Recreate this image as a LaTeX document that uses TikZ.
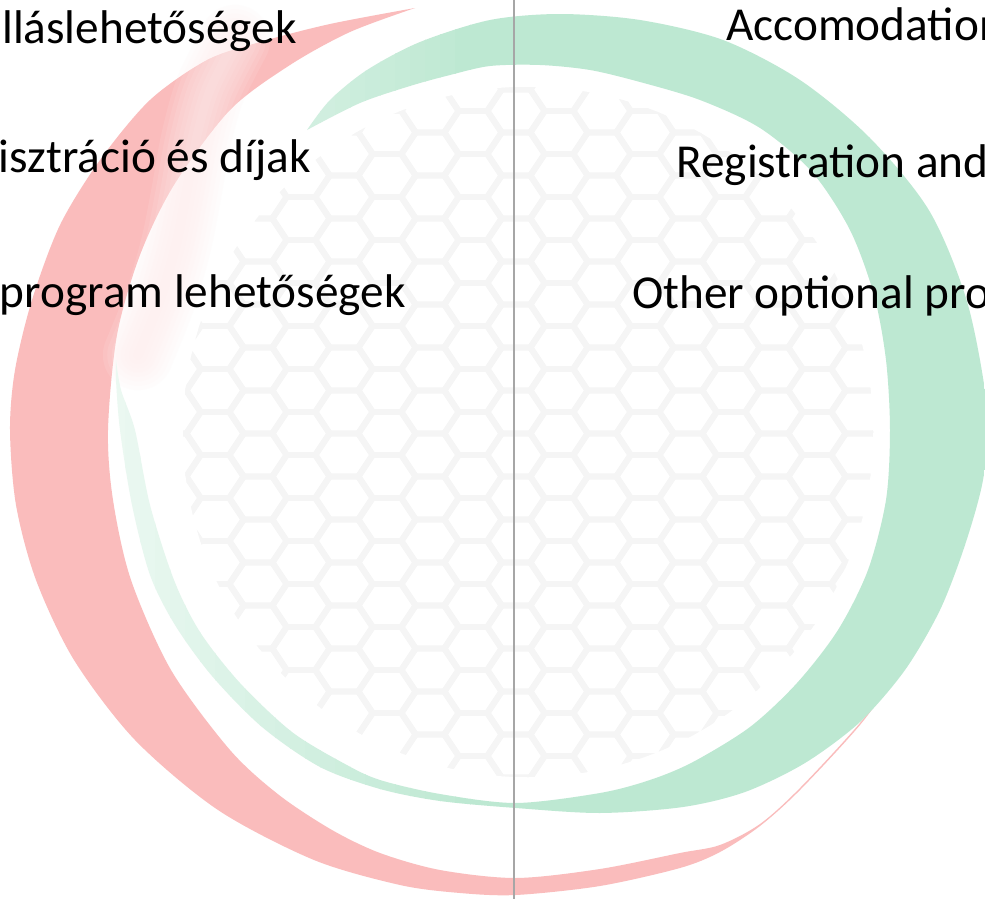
\documentclass[tikz,border=0pt]{standalone}
\usepackage{fontspec}
\newfontfamily\carlito{Carlito}
\definecolor{redband}{RGB}{250,188,188}
\definecolor{redhaze}{RGB}{254,238,238}
\definecolor{greenband}{RGB}{189,232,210}
\newcommand{\redswoosh}{plot[smooth] coordinates {(415,8) (330,24) (260,42) (207,60) (150,100) (100,160) (60,225) (32,300) (15,370) (10,430) (16,505) (36,580) (74,660) (135,740) (218,810) (314,860) (400,885) (460,893) (516,895) (600,886) (680,868) (720,852) (760,826) (800,790) (860,725) (900,670)}
    -- plot[smooth] coordinates {(900,670) (860,723) (800,788) (760,824) (720,845) (680,853) (600,869) (516,878) (440,870) (380,853) (332,830) (279,795) (230,750) (171,670) (131,580) (113,500) (108,430) (117,335) (140,255) (174,185) (230,110) (290,65) (350,32) (415,8)} -- cycle}
\newcommand{\greenswoosh}{plot[smooth] coordinates {(307,130) (330,100) (367,70) (420,42) (490,20) (560,14) (640,20) (723,40) (800,80) (870,138) (930,212) (968,305) (988,415) (983,480) (965,545) (940,610) (905,670) (860,722) (805,763) (745,792) (683,807) (600,813) (516,808) (440,801) (380,789) (320,767) (262,727) (212,676) (175,625) (150,575) (132,505) (120,430) (116,380) (116,360)}
    -- plot[smooth] coordinates {(116,360) (121,390) (135,430) (150,505) (174,580) (200,632) (240,683) (292,732) (345,764) (380,780) (440,794) (516,803) (600,793) (650,780) (693,762) (750,727) (797,683) (838,630) (868,570) (886,500) (890,430) (886,360) (874,295) (850,230) (812,172) (760,128) (700,100) (640,82) (590,70) (540,65) (490,66) (450,75) (410,86) (360,103) (307,130)} -- cycle}
\begin{document}
\begin{tikzpicture}[x=0.02cm,y=-0.02cm,
    hexline/.style={draw=black!4,line width=3.4pt,line join=round},
    divider/.style={draw=black!35,line width=1.1pt},
    lbl/.style={font={\carlito\fontsize{26.9}{32}\selectfont},inner sep=0pt}]
    \useasboundingbox (0,0) rectangle (985,899);
    \fill[white] (0,0) rectangle (985,899);
    \clip (0,0) rectangle (985,899);
    % honeycomb behind the rings
    \begin{scope}
        \clip (528,432) circle (345);
        \foreach \k in {-9,...,9}{
            \foreach \m in {-9,...,10}{
                \pgfmathsetmacro{\cx}{516+43*\k}
                \pgfmathsetmacro{\cy}{369+43*\m+21.5*mod(abs(\k),2)}
                \draw[hexline] (\cx-28.7,\cy) -- (\cx-14.35,\cy-21.5) -- (\cx+14.35,\cy-21.5) -- (\cx+28.7,\cy) -- (\cx+14.35,\cy+21.5) -- (\cx-14.35,\cy+21.5) -- cycle;
            }
        }
    \end{scope}
    \fill[redband] \redswoosh;
    \foreach \w in {40,35,...,5}{
        \draw[redhaze,line width=\w pt,opacity=0.13,line cap=round] plot[smooth] coordinates {(235,40) (210,90) (196,140) (186,195) (176,245) (160,300) (138,355)};
    }
    % green ring, paler towards the left
    \begin{scope}
        \clip \greenswoosh;
        \fill[greenband] (470,0) rectangle (985,899);
        \foreach \i in {0,...,23}{
            \pgfmathtruncatemacro{\pct}{30+70*\i/23}
            \fill[greenband!\pct] (110+15*\i,0) rectangle (126+15*\i,899);
        }
    \end{scope}
    \coordinate (divtop) at (514,0);
    \coordinate (divbot) at (514,899);
    \draw[divider] (divtop) -- (divbot);
    \node[lbl,anchor=base east] (huSzallas) at (297,43) {lláslehetőségek};
    \node[lbl,anchor=base east] (huRegiszt) at (311,172) {isztráció és díjak};
    \node[lbl,anchor=base east] (huProgram) at (406,307) {program lehetőségek};
    \node[lbl,anchor=base west] (enAccom) at (726,40) {Accomodation};
    \node[lbl,anchor=base west] (enRegist) at (676,177) {Registration and};
    \node[lbl,anchor=base west] (enOther) at (632,308) {Other optional pro};
\end{tikzpicture}
\end{document}
